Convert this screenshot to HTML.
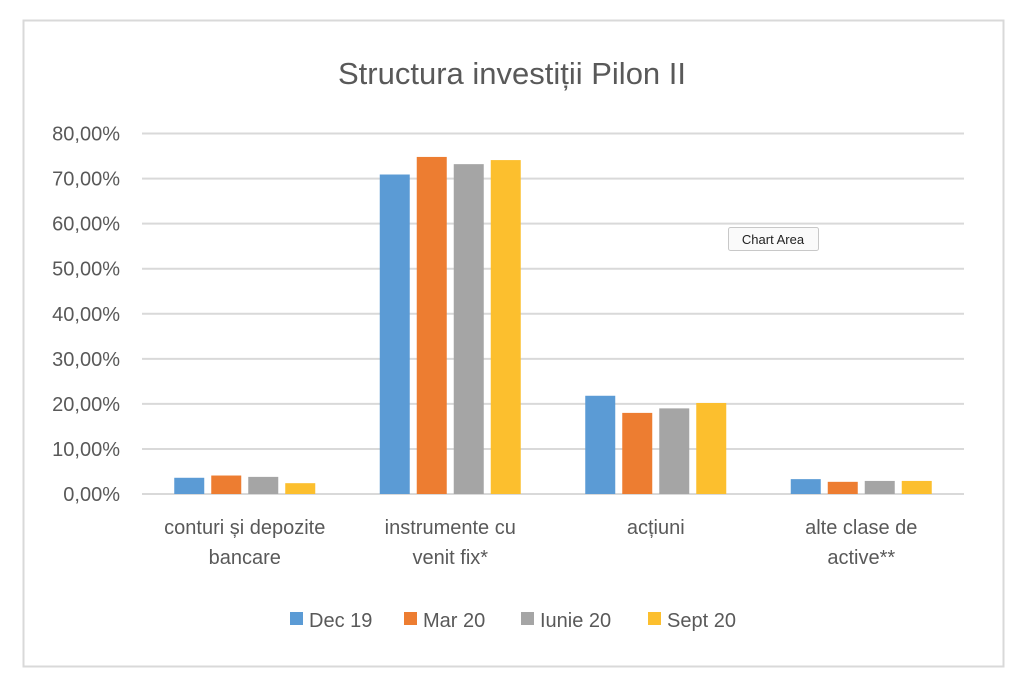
<!DOCTYPE html>
<html><head><meta charset="utf-8"><style>
body{margin:0;background:#fff;width:1024px;height:694px;overflow:hidden;font-family:"Liberation Sans",sans-serif}
svg text{font-family:"Liberation Sans",sans-serif;fill:#595959}
</style></head><body>
<svg width="1024" height="694">
<rect x="23.5" y="20.5" width="980" height="646" fill="#fff" stroke="#d9d9d9" stroke-width="2"/>
<text x="512" y="84" font-size="31" text-anchor="middle">Structura investiții Pilon II</text>
<g id="grid"></g><g id="bars"></g><g id="xl"></g><g id="legend"></g>
<g>
<rect x="728.5" y="227.5" width="90" height="23" fill="#fafafa" stroke="#c8c8c8" rx="2"/>
<text x="773" y="244" font-size="13" text-anchor="middle" style="fill:#222">Chart Area</text>
</g>
</svg>
<script>
const categories=[["conturi și depozite","bancare"],["instrumente cu","venit fix*"],["acțiuni"],["alte clase de","active**"]];
const seriesNames=["Dec 19","Mar 20","Iunie 20","Sept 20"];
const dec19=[3.6,70.9,21.8,3.3];
const mar20=[4.1,74.8,18.0,2.7];
const iunie20=[3.8,73.2,19.0,2.9];
const sept20=[2.4,74.1,20.2,2.9];
const yTicks=[0,10,20,30,40,50,60,70,80];
const yTickLabels=["0,00%","10,00%","20,00%","30,00%","40,00%","50,00%","60,00%","70,00%","80,00%"];
const colors=["#5b9bd5","#ed7d31","#a5a5a5","#fcbf2e"];
const series=[dec19,mar20,iunie20,sept20];
const NS="http://www.w3.org/2000/svg";
const x0=142,x1=964,y0=494,y1=133.5,yMax=80;
const yS=v=>y0-(v/yMax)*(y0-y1);
const catW=(x1-x0)/categories.length;
const xC=i=>x0+catW*(i+0.5);
function mk(t,a,p,txt){const e=document.createElementNS(NS,t);for(const k in a)e.setAttribute(k,a[k]);if(txt!=null)e.textContent=txt;p.appendChild(e);return e;}
const g=document.getElementById('grid');
yTicks.forEach((v,i)=>{
 const l=mk('line',{x1:x0,x2:x1,y1:yS(v),y2:yS(v),stroke:'#d9d9d9','stroke-width':2},g);
 
 
 const t=mk('text',{x:120,y:yS(v)+7,'font-size':20,'text-anchor':'end'},g,yTickLabels[i]);
 
 
});
const b=document.getElementById('bars');
const bw=30,step=37;
series.forEach((s,si)=>{s.forEach((v,ci)=>{
 const x=xC(ci)-2*step+si*step+3.5;
 const r=mk('rect',{x:x,y:yS(v),width:bw,height:y0-yS(v),fill:colors[si]},b);
 
 
});});
const xl=document.getElementById('xl');
categories.forEach((c,i)=>{c.forEach((line,j)=>{
 const t=mk('text',{x:xC(i),y:534+j*30,'font-size':20,'text-anchor':'middle'},xl,line);
 
 
});});
const lg=document.getElementById('legend');
const lx=[290,404,521,648];
seriesNames.forEach((n,i)=>{
 const grp=mk('g',{},lg);
 
 
 mk('rect',{x:lx[i],y:612,width:13,height:13,fill:colors[i]},grp);
 mk('text',{x:lx[i]+19,y:627,'font-size':20},grp,n);
});
</script>
</body></html>
